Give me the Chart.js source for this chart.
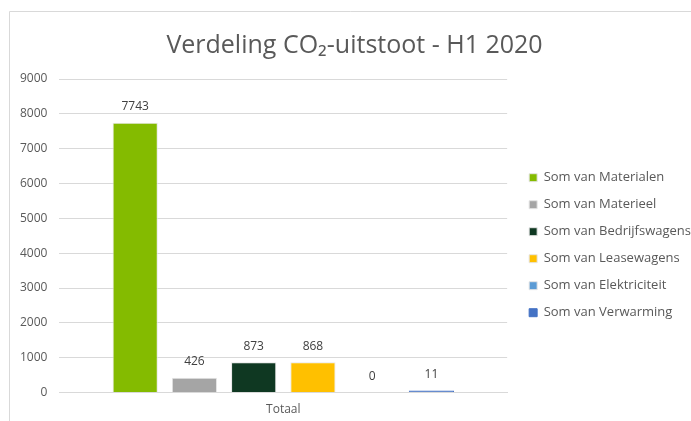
<!DOCTYPE html>
<html>
<head>
<meta charset="utf-8">
<script src="https://cdn.jsdelivr.net/npm/chart.js@4"></script>
<style>
  html, body { margin: 0; padding: 0; background: #fff; }
  #wrap { width: 691px; height: 421px; }
</style>
</head>
<body>
<div id="wrap"><canvas id="co2Chart" width="691" height="421"></canvas></div>
<script>
// data
const categories = ["Totaal"];
const seriesNames = ["Som van Materialen", "Som van Materieel", "Som van Bedrijfswagens",
                     "Som van Leasewagens", "Som van Elektriciteit", "Som van Verwarming"];
const seriesValues = [7743, 426, 873, 868, 0, 11];
const seriesColors = ["#84bb00", "#a5a5a5", "#0f3822", "#ffc000", "#5b9bd5", "#4472c4"];
const yTicks = [0, 1000, 2000, 3000, 4000, 5000, 6000, 7000, 8000, 9000];

const textGrey = "#595959";
const fontFamily = "'Open Sans', sans-serif";

// value labels above each bar (no datalabels plugin available)
const valueLabels = {
    id: 'valueLabels',
    afterDatasetsDraw(chart) {
        const ctx = chart.ctx;
        ctx.save();
        ctx.font = "12px " + fontFamily;
        ctx.fillStyle = "#404040";
        ctx.textAlign = "center";
        ctx.textBaseline = "middle";
        chart.data.datasets.forEach(function (ds, i) {
            const meta = chart.getDatasetMeta(i);
            meta.data.forEach(function (bar, j) {
                const top = Math.min(bar.y, bar.base);
                ctx.fillText(ds.data[j], bar.x, top - 16);
            });
        });
        ctx.restore();
    }
};

// the thin frame visible on top and left of the screenshot
const frame = {
    id: 'frame',
    beforeDraw(chart) {
        const ctx = chart.ctx;
        ctx.save();
        ctx.strokeStyle = "#d9d9d9";
        ctx.lineWidth = 1;
        ctx.beginPath();
        ctx.moveTo(9.5, chart.height);
        ctx.lineTo(9.5, 11.5);
        ctx.lineTo(chart.width, 11.5);
        ctx.stroke();
        ctx.restore();
    }
};

new Chart("co2Chart", {
    type: 'bar',
    data: {
        labels: categories,
        datasets: seriesNames.map(function (name, i) {
            return {
                label: name,
                data: [seriesValues[i]],
                backgroundColor: seriesColors[i],
                borderColor: i === 5 ? seriesColors[i] : "#e6e6e6",
                borderWidth: 1,
                minBarLength: i === 5 ? 2 : 0,
                categoryPercentage: 0.794,
                barPercentage: 0.763
            };
        })
    },
    options: {
        responsive: false,
        animation: false,
        layout: {
            padding: { left: 8, right: -10, top: 31, bottom: 2 }
        },
        plugins: {
            title: {
                display: true,
                text: 'Verdeling CO₂-uitstoot - H1 2020',
                color: textGrey,
                font: { family: fontFamily, size: 25, weight: 'normal' },
                padding: { top: 0, bottom: 18 }
            },
            legend: {
                position: 'right',
                maxWidth: 260,
                title: {
                    display: true,
                    text: ' ',
                    font: { size: 12 },
                    padding: { top: 13, bottom: 13 }
                },
                labels: {
                    color: textGrey,
                    font: { family: fontFamily, size: 13 },
                    boxWidth: 8,
                    boxHeight: 8,
                    padding: 14
                }
            },
            tooltip: { enabled: false }
        },
        scales: {
            x: {
                grid: { display: false },
                border: { color: "#d9d9d9" },
                ticks: { color: textGrey, font: { family: fontFamily, size: 12 }, padding: 2 }
            },
            y: {
                min: 0,
                max: 9000,
                afterBuildTicks: function (axis) {
                    axis.ticks = yTicks.map(function (v) { return { value: v }; });
                },
                grid: { color: "#d9d9d9", drawTicks: false },
                border: { display: false },
                ticks: {
                    color: textGrey,
                    font: { family: fontFamily, size: 12 },
                    padding: 12,
                    callback: function (v) { return String(v); }
                }
            },
            // empty axis, only keeps a gap between plot and legend
            gap: {
                position: 'right',
                grid: { display: false },
                border: { display: false },
                ticks: { display: false },
                afterFit: function (axis) { axis.width = 8; }
            }
        }
    },
    plugins: [valueLabels, frame]
});
</script>
</body>
</html>
